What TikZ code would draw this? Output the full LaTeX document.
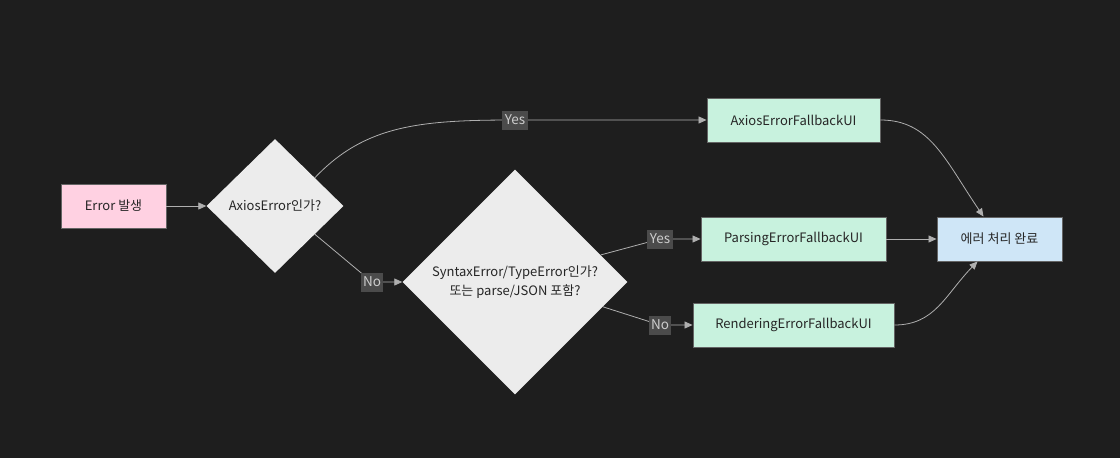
\documentclass[tikz,border=0pt]{standalone}
\usepackage{fontspec}
\setmainfont{Noto Sans CJK KR}
\usetikzlibrary{arrows.meta,positioning,calc,shapes.geometric}
\definecolor{canvas}{RGB}{30,30,30}
\definecolor{softpink}{RGB}{255,209,226}
\definecolor{softmint}{RGB}{200,242,222}
\definecolor{softsky}{RGB}{207,230,247}
\definecolor{softgray}{RGB}{236,236,236}
\definecolor{wire}{RGB}{175,175,175}
\definecolor{frame}{RGB}{100,100,100}
\definecolor{tagbg}{RGB}{75,75,75}
\definecolor{tagfg}{RGB}{205,205,205}
\tikzset{
  box/.style={draw=frame,line width=0.9pt,text=black!85,minimum height=44pt,inner sep=0pt,font=\fontsize{13}{16}\selectfont},
  choice/.style={diamond,fill=softgray,text=black!85,inner sep=0pt,align=center,font=\fontsize{13}{19.5}\selectfont},
  wireline/.style={->,draw=wire,line width=0.8pt},
  tag/.style={fill=tagbg,text=tagfg,inner sep=2.5pt,minimum height=19pt,font=\fontsize{13.5}{15}\selectfont}
}

\begin{document}
\begin{tikzpicture}[x=1pt,y=-1pt,>={Triangle[length=8pt,width=7pt]}]
  \fill[canvas] (0,0) rectangle (1120,458);
  \node[box,fill=softpink,minimum width=105pt] (err) at (113.5,206) {Error 발생};
  \node[choice,minimum width=137pt,minimum height=134pt] (isaxios) at (275,206) {AxiosError인가?};
  \node[choice,minimum width=225pt,minimum height=225pt] (isparse) at (515,282) {SyntaxError/TypeError인가?\\또는 parse/JSON 포함?};
  \node[box,fill=softmint,minimum width=173pt] (axiosui) at (793.5,120) {AxiosErrorFallbackUI};
  \node[box,fill=softmint,minimum width=185pt] (parseui) at (793.5,239) {ParsingErrorFallbackUI};
  \node[box,fill=softmint,minimum width=201pt] (renderui) at (793.5,325) {RenderingErrorFallbackUI};
  \node[box,fill=softsky,minimum width=125pt] (done) at (999.5,239) {에러 처리 완료};

  \draw[wireline] (err) -- (isaxios);
  \draw[wireline] ($(isaxios.north)!0.58!(isaxios.east)$) .. controls (365,125) and (420,120) .. (515,120) node[tag] {Yes} -- (axiosui.west);
  \draw[wireline] ($(isaxios.south)!0.58!(isaxios.east)$) -- (372,282) node[tag] {No} -- (isparse.west);
  \draw[wireline] ($(isparse.north)!0.76!(isparse.east)$) -- (660,239) node[tag] {Yes} -- (parseui.west);
  \draw[wireline] ($(isparse.south)!0.78!(isparse.east)$) -- (660,325) node[tag] {No} -- (renderui.west);
  \draw[wireline] (axiosui.east) .. controls (930,120) and (945,160) .. ($(done.north)+(-16,0)$);
  \draw[wireline] (parseui) -- (done);
  \draw[wireline] (renderui.east) .. controls (935,325) and (945,295) .. ($(done.south)+(-22,0)$);
\end{tikzpicture}
\end{document}
